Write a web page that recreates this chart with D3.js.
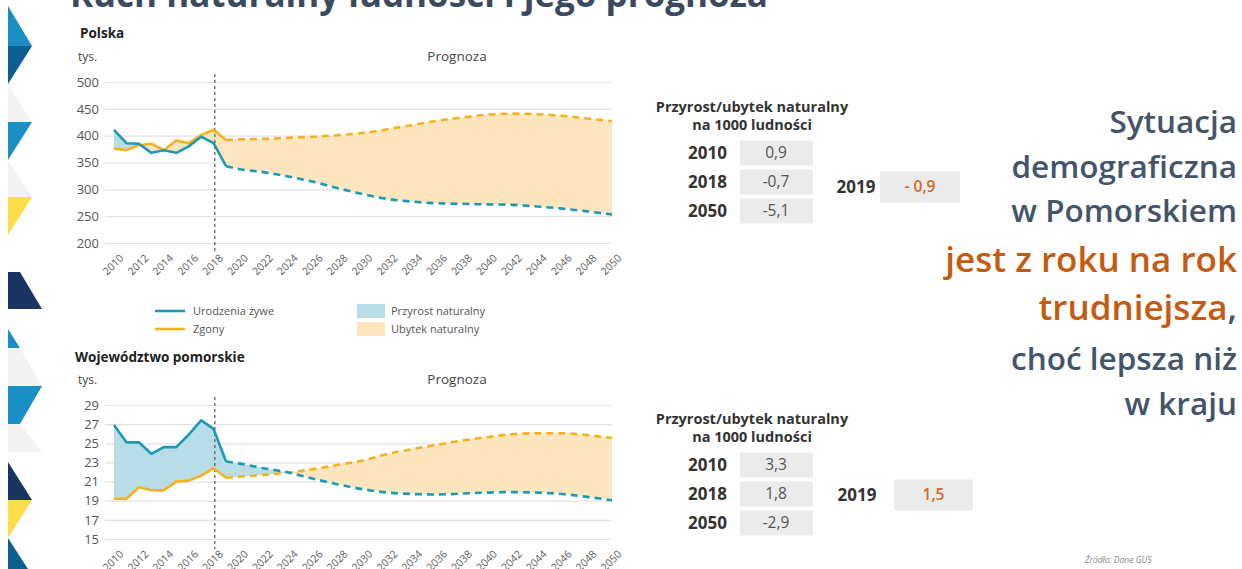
<!DOCTYPE html>
<html>
<head>
<meta charset="utf-8">
<script src="https://cdnjs.cloudflare.com/ajax/libs/d3/7.8.5/d3.min.js"></script>
<style>
  html, body { margin: 0; padding: 0; background: #fff; }
  svg { display: block; font-family: "Open Sans", sans-serif; }
</style>
</head>
<body>
<div id="chart"></div>
<script>
// ---- data ----
var histYears = [2010, 2011, 2012, 2013, 2014, 2015, 2016, 2017, 2018, 2019];
var projYears = [2019, 2020, 2022, 2024, 2026, 2028, 2030, 2032, 2034, 2036, 2038, 2040, 2042, 2044, 2046, 2048, 2050];
var xTickYears = [2010, 2012, 2014, 2016, 2018, 2020, 2022, 2024, 2026, 2028, 2030, 2032, 2034, 2036, 2038, 2040, 2042, 2044, 2046, 2048, 2050];

// Polska (tys.)
var plBirthsHist = [411, 386, 385, 368, 373, 368, 380, 398, 386, 343];
var plDeathsHist = [376, 373, 382, 385, 373, 391, 386, 401, 411, 392];
var plBirthsProj = [343, 338, 332, 324, 314, 302, 291, 282, 277, 274, 273, 272, 271, 268, 264, 259, 253];
var plDeathsProj = [392, 393, 394, 396, 398, 401, 405, 412, 420, 428, 434, 439, 441, 440, 437, 432, 427];
var plTicks = [200, 250, 300, 350, 400, 450, 500];

// Województwo pomorskie (tys.)
var pmBirthsHist = [26.9, 25.1, 25.1, 23.9, 24.6, 24.6, 25.9, 27.4, 26.5, 23.1];
var pmDeathsHist = [19.2, 19.2, 20.4, 20.1, 20.1, 21.0, 21.1, 21.6, 22.4, 21.4];
var pmBirthsProj = [23.1, 22.9, 22.4, 21.95, 21.3, 20.7, 20.2, 19.85, 19.7, 19.65, 19.75, 19.85, 19.9, 19.85, 19.7, 19.4, 19.05];
var pmDeathsProj = [21.4, 21.5, 21.7, 21.95, 22.3, 22.75, 23.2, 23.9, 24.4, 24.85, 25.3, 25.65, 25.95, 26.05, 26.05, 25.85, 25.55];
var pmTicks = [15, 17, 19, 21, 23, 25, 27, 29];

// tabelki: przyrost/ubytek naturalny na 1000 ludności
var tableYears = ["2010", "2018", "2050"];
var plRates = ["0,9", "-0,7", "-5,1"];
var pmRates = ["3,3", "1,8", "-2,9"];
var plRate2019 = "- 0,9";
var pmRate2019 = "1,5";

var rightText = [
  [{ t: "Sytuacja", c: "slate" }],
  [{ t: "demograficzna", c: "slate" }],
  [{ t: "w Pomorskiem", c: "slate" }],
  [{ t: "jest z roku na rok", c: "orange" }],
  [{ t: "trudniejsza", c: "orange" }, { t: ",", c: "slate" }],
  [{ t: "choć lepsza niż", c: "slate" }],
  [{ t: "w kraju", c: "slate" }]
];

var TEAL = "#1b9ab3", ORANGE = "#f6b21e",
    BLUE_FILL = "#b9dde7", ORANGE_FILL = "#fde6bf",
    SLATE = "#44546a", RUST = "#c55a11";

var W = 1242, H = 569;
var svg = d3.select("#chart").append("svg")
  .attr("width", W).attr("height", H);
var defs = svg.append("defs");

// ---- left decoration ----
var deco = [
  { c: "#1a8fc4", p: [[8,6],[32,46],[8,46]] },
  { c: "#0d5f8f", p: [[8,46],[32,46],[8,84]] },
  { c: "#f3f3f3", p: [[8,84],[32,122],[8,122]] },
  { c: "#1a8fc4", p: [[8,122],[32,122],[8,160]] },
  { c: "#f3f3f3", p: [[8,160],[32,197],[8,197]] },
  { c: "#fddd4a", p: [[8,197],[32,197],[8,235]] },
  { c: "#1b3563", p: [[8,272],[20,272],[42,309],[8,309]] },
  { c: "#1a8fc4", p: [[8,329],[20,348],[8,348]] },
  { c: "#f3f3f3", p: [[8,348],[20,348],[42,386],[8,386]] },
  { c: "#1a8fc4", p: [[8,386],[42,386],[20,424],[8,424]] },
  { c: "#f3f3f3", p: [[8,424],[20,424],[42,452],[8,452]] },
  { c: "#1b3563", p: [[8,462],[32,500],[8,500]] },
  { c: "#fddd4a", p: [[8,500],[32,500],[8,538]] },
  { c: "#0d5f8f", p: [[8,538],[28,569],[8,569]] }
];
svg.append("g").selectAll("polygon")
  .data(deco)
  .enter().append("polygon")
    .attr("points", function(d) { return d.p.map(function(q) { return q.join(","); }).join(" "); })
    .attr("fill", function(d) { return d.c; });

// ---- title (cut at the top) ----
svg.append("text")
  .attr("x", 70).attr("y", 7)
  .attr("font-size", 35).attr("font-weight", 700)
  .attr("fill", "#3b4a5e")
  .text("Ruch naturalny ludności i jego prognoza");

var x = d3.scaleLinear().domain([2010, 2050]).range([114, 612]);
var gridLeft = 105, gridRight = 612;

var drawChart = function(cfg) {
  var y = d3.scaleLinear().domain(cfg.domain).range(cfg.range);
  var g = svg.append("g").attr("class", "chart-" + cfg.id);

  // header texts
  g.append("text")
    .attr("x", cfg.titleX).attr("y", cfg.titleY)
    .attr("font-size", 13.5).attr("font-weight", 700).attr("fill", "#222")
    .text(cfg.title);
  g.append("text")
    .attr("x", 78).attr("y", cfg.unitY)
    .attr("font-size", 12).attr("fill", "#444")
    .text("tys.");
  g.append("text")
    .attr("x", 457).attr("y", cfg.unitY)
    .attr("text-anchor", "middle")
    .attr("font-size", 13.5).attr("fill", "#444")
    .text("Prognoza");

  // grid + y labels
  var yAxis = d3.axisLeft(y)
    .tickValues(cfg.ticks)
    .tickSize(-(gridRight - gridLeft))
    .tickPadding(6)
    .tickFormat(d3.format("d"));
  var ya = g.append("g")
    .attr("transform", "translate(" + gridLeft + ",0)")
    .call(yAxis);
  ya.select(".domain").remove();
  ya.selectAll(".tick line").attr("stroke", "#e2e2e2").attr("stroke-width", 1.2);
  ya.selectAll(".tick text")
    .attr("font-family", "Open Sans, sans-serif")
    .attr("font-size", 13).attr("fill", "#555");

  // x labels
  var xAxis = d3.axisBottom(x).tickValues(xTickYears).tickSize(0).tickFormat(d3.format("d"));
  var xa = g.append("g")
    .attr("transform", "translate(0," + (cfg.range[0] + 8) + ")")
    .call(xAxis);
  xa.select(".domain").remove();
  xa.selectAll(".tick text")
    .attr("font-family", "Open Sans, sans-serif")
    .attr("font-size", 10.5).attr("fill", "#5a5a5a")
    .attr("text-anchor", "end")
    .attr("dy", "0.35em")
    .attr("transform", "translate(5,3) rotate(-45)");

  // fills between births and deaths, split by sign
  var segments = [
    { key: "h", years: histYears, b: cfg.birthsHist, d: cfg.deathsHist, curve: d3.curveLinear },
    { key: "p", years: projYears, b: cfg.birthsProj, d: cfg.deathsProj, curve: d3.curveMonotoneX }
  ];
  var topY = cfg.range[1] - 40;

  segments.forEach(function(s) {
    var data = s.years.map(function(yr, i) { return { year: yr, b: s.b[i], d: s.d[i] }; });
    var between = d3.area().curve(s.curve)
      .x(function(d) { return x(d.year); })
      .y0(function(d) { return y(d.d); })
      .y1(function(d) { return y(d.b); });
    var aboveDeaths = d3.area().curve(s.curve)
      .x(function(d) { return x(d.year); })
      .y0(topY)
      .y1(function(d) { return y(d.d); });
    var aboveBirths = d3.area().curve(s.curve)
      .x(function(d) { return x(d.year); })
      .y0(topY)
      .y1(function(d) { return y(d.b); });

    var idB = cfg.id + "-" + s.key + "-clipBlue";
    var idO = cfg.id + "-" + s.key + "-clipOrange";
    defs.append("clipPath").attr("id", idB).append("path").attr("d", aboveDeaths(data));
    defs.append("clipPath").attr("id", idO).append("path").attr("d", aboveBirths(data));

    g.append("path").attr("d", between(data))
      .attr("fill", BLUE_FILL).attr("clip-path", "url(#" + idB + ")");
    g.append("path").attr("d", between(data))
      .attr("fill", ORANGE_FILL).attr("clip-path", "url(#" + idO + ")");
  });

  // forecast divider
  g.append("line")
    .attr("x1", x(2018.1)).attr("x2", x(2018.1))
    .attr("y1", cfg.range[1] - 8).attr("y2", cfg.range[0] + 10)
    .attr("stroke", "#555").attr("stroke-width", 1.2)
    .attr("stroke-dasharray", "3,3");

  // lines
  segments.forEach(function(s) {
    var line = function(acc) {
      return d3.line().curve(s.curve)
        .x(function(d, i) { return x(s.years[i]); })
        .y(function(d) { return y(d); })(acc);
    };
    var dash = s.key === "p" ? "7,5" : null;
    g.append("path").attr("d", line(s.d))
      .attr("fill", "none").attr("stroke", ORANGE).attr("stroke-width", 2.6)
      .attr("stroke-dasharray", dash).attr("stroke-linejoin", "round");
    g.append("path").attr("d", line(s.b))
      .attr("fill", "none").attr("stroke", TEAL).attr("stroke-width", 2.6)
      .attr("stroke-dasharray", dash).attr("stroke-linejoin", "round");
  });
};

drawChart({
  id: "pl", title: "Polska", titleX: 80, titleY: 38, unitY: 61,
  domain: [200, 500], range: [243, 82], ticks: plTicks,
  birthsHist: plBirthsHist, deathsHist: plDeathsHist,
  birthsProj: plBirthsProj, deathsProj: plDeathsProj
});

drawChart({
  id: "pm", title: "Województwo pomorskie", titleX: 75, titleY: 362, unitY: 384,
  domain: [15, 29], range: [539, 405], ticks: pmTicks,
  birthsHist: pmBirthsHist, deathsHist: pmDeathsHist,
  birthsProj: pmBirthsProj, deathsProj: pmDeathsProj
});

// ---- legend ----
var legend = svg.append("g").attr("font-size", 11).attr("fill", "#555");
var lineItems = [{ c: TEAL, t: "Urodzenia żywe", y: 311 }, { c: ORANGE, t: "Zgony", y: 329 }];
var boxItems = [{ c: BLUE_FILL, t: "Przyrost naturalny", y: 311 }, { c: ORANGE_FILL, t: "Ubytek naturalny", y: 329 }];
lineItems.forEach(function(d) {
  legend.append("line").attr("x1", 155).attr("x2", 185).attr("y1", d.y).attr("y2", d.y)
    .attr("stroke", d.c).attr("stroke-width", 2.6);
  legend.append("text").attr("x", 193).attr("y", d.y).attr("dy", "0.35em").text(d.t);
});
boxItems.forEach(function(d) {
  legend.append("rect").attr("x", 357).attr("y", d.y - 7).attr("width", 28).attr("height", 14)
    .attr("fill", d.c);
  legend.append("text").attr("x", 391).attr("y", d.y).attr("dy", "0.35em").text(d.t);
});

// ---- tables ----
var drawTable = function(top, rates, rate2019, box2019) {
  var t = svg.append("g");
  t.append("text").attr("x", 752).attr("y", top + 4)
    .attr("text-anchor", "middle").attr("font-size", 14.5).attr("font-weight", 700).attr("fill", "#333")
    .text("Przyrost/ubytek naturalny");
  t.append("text").attr("x", 752).attr("y", top + 22)
    .attr("text-anchor", "middle").attr("font-size", 14.5).attr("font-weight", 700).attr("fill", "#333")
    .text("na 1000 ludności");
  tableYears.forEach(function(yr, i) {
    var cy = top + 45 + i * 29;
    t.append("text").attr("x", 727).attr("y", cy).attr("dy", "0.35em")
      .attr("text-anchor", "end").attr("font-size", 17).attr("font-weight", 700).attr("fill", "#333")
      .text(yr);
    t.append("rect").attr("x", 740).attr("y", cy - 12.5).attr("width", 73).attr("height", 25)
      .attr("fill", "#ebebeb");
    t.append("text").attr("x", 776).attr("y", cy).attr("dy", "0.35em")
      .attr("text-anchor", "middle").attr("font-size", 15.5).attr("fill", "#555")
      .text(rates[i]);
  });
  t.append("text").attr("x", box2019.lx).attr("y", box2019.cy).attr("dy", "0.35em")
    .attr("text-anchor", "middle").attr("font-size", 17).attr("font-weight", 700).attr("fill", "#333")
    .text("2019");
  t.append("rect").attr("x", box2019.x).attr("y", box2019.cy - 15.5).attr("width", box2019.w).attr("height", 31)
    .attr("fill", "#ebebeb");
  t.append("text").attr("x", box2019.x + box2019.w / 2).attr("y", box2019.cy).attr("dy", "0.35em")
    .attr("text-anchor", "middle").attr("font-size", 15.5).attr("font-weight", 600).attr("fill", "#d2691e")
    .text(rate2019);
};
drawTable(108, plRates, plRate2019, { lx: 856, x: 880, w: 80, cy: 187 });
drawTable(420, pmRates, pmRate2019, { lx: 857, x: 894, w: 79, cy: 495 });

// ---- right side text ----
var baselines = [133, 178, 222, 272, 320, 370, 415];
var sizes = [31.5, 31.5, 31.5, 35, 35, 31.5, 31.5];
rightText.forEach(function(parts, i) {
  var tx = svg.append("text")
    .attr("x", 1237).attr("y", baselines[i])
    .attr("text-anchor", "end")
    .attr("font-family", "Open Sans, sans-serif")
    .attr("font-weight", 600)
    .attr("font-size", sizes[i]);
  parts.forEach(function(p) {
    tx.append("tspan").attr("fill", p.c === "orange" ? RUST : SLATE).text(p.t);
  });
});

svg.append("text")
  .attr("x", 1085).attr("y", 563)
  .attr("font-size", 8.5).attr("font-style", "italic").attr("fill", "#888")
  .text("Źródło: Dane GUS");
</script>
</body>
</html>
